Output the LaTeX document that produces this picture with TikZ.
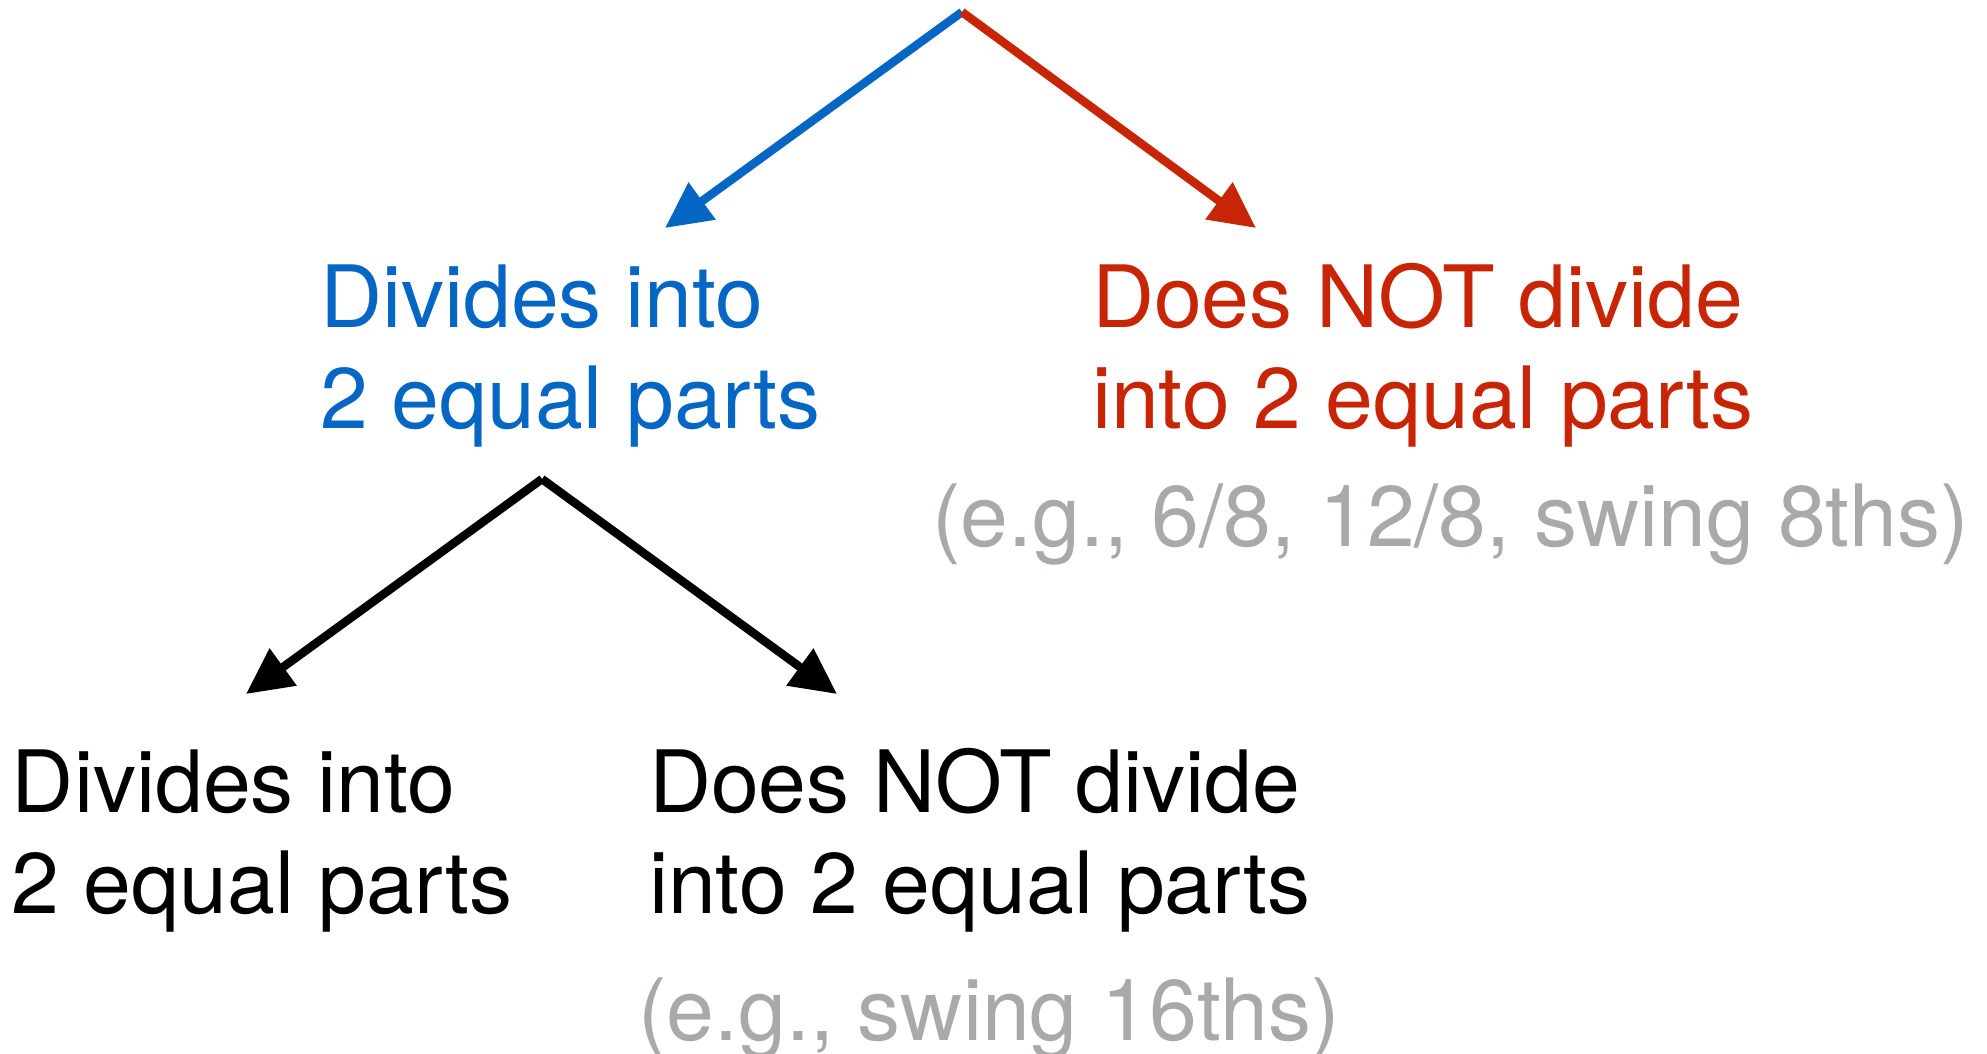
\documentclass[tikz,border=0pt]{standalone}
\usepackage{fontspec}
\setmainfont{TeX Gyre Heros}
\usetikzlibrary{arrows.meta}
\definecolor{tblue}{HTML}{0566C3}
\definecolor{tred}{HTML}{C82506}
\definecolor{tgray}{HTML}{A7AAA9}
\tikzset{
  lbl/.style={anchor=base west, inner sep=0pt, outer sep=0pt, align=left,
    font=\fontsize{86}{101}\selectfont},
  conn/.style={line width=8.5pt, -{Triangle[length=46pt,width=44pt]}},
}
\begin{document}
\begin{tikzpicture}[x=1pt,y=-1pt]
\useasboundingbox (0,0) rectangle (1987,1054);
% text nodes
\node[lbl, text=tblue] (blue1) at (320,327) {Divides into};
\node[lbl, text=tblue] (blue2) at (320,428) {2 equal parts};
\node[lbl, text=tred] (red1) at (1092,327) {Does NOT divide};
\node[lbl, text=tred] (red2) at (1092,428) {into 2 equal parts};
\node[lbl, text=tgray] (gray1) at (932,546) {(e.g., 6/8, 12/8, swing 8ths)};
\node[lbl, text=black] (blk1) at (12,812) {Divides into};
\node[lbl, text=black] (blk2) at (12,913) {2 equal parts};
\node[lbl, text=black] (nblk1) at (649,812) {Does NOT divide};
\node[lbl, text=black] (nblk2) at (649,913) {into 2 equal parts};
\node[lbl, text=tgray] (gray2) at (638,1040) {(e.g., swing 16ths)};
% connector ends
\coordinate (top) at (962,12);
\coordinate (blueTip) at (665,228);
\coordinate (redTip) at (1256,228);
\coordinate (mid) at (542,479);
\coordinate (leftTip) at (246,694);
\coordinate (rightTip) at (837,694);
% connectors
\draw[conn, tblue] (top) -- (blueTip);
\draw[conn, tred] (top) -- (redTip);
\draw[conn, black] (mid) -- (leftTip);
\draw[conn, black] (mid) -- (rightTip);
\end{tikzpicture}
\end{document}
